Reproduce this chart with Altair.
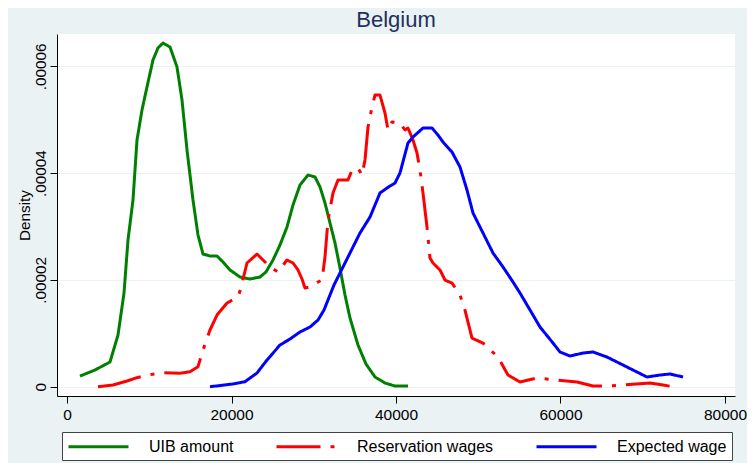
import altair as alt
import pandas as pd

# ---- data (density values in units of 1e-5) ----
series = ["UIB amount", "Reservation wages", "Expected wage"]
colors = ["#008000", "#ff0000", "#0000ff"]
dashes = [[1, 0], [44, 10, 4, 10], [1, 0]]

uib_x = [1581, 3404, 5228, 6201, 6930, 7416, 8024, 8511, 9119, 9726, 10456, 11064,
         11672, 12523, 13374, 13982, 14590, 15319, 15927, 16535, 17386, 18237, 18967,
         19818, 21033, 22249, 23465, 24194, 25045, 25896, 26747, 27477, 28328, 29301,
         30152, 30760, 31368, 31975, 32583, 33191, 33799, 34407, 35380, 36352, 37447,
         38662, 39878, 41458]
uib_y = [0.200, 0.313, 0.463, 0.968, 1.755, 2.748, 3.497, 4.621, 5.183, 5.614, 6.120,
         6.345, 6.437, 6.362, 5.988, 5.370, 4.434, 3.497, 2.841, 2.485, 2.448, 2.448,
         2.336, 2.186, 2.055, 2.017, 2.055, 2.149, 2.373, 2.654, 2.991, 3.403, 3.778,
         3.965, 3.928, 3.741, 3.441, 3.067, 2.692, 2.224, 1.718, 1.287, 0.781, 0.425,
         0.182, 0.069, 0.013, 0.013]

res_x = [3769, 5593, 7295, 8511, 9848, 11672, 13739, 14954, 15927, 16535, 17386, 18237,
         19453, 20790, 21155, 21398, 21884, 23101, 23830, 24681, 25654, 26748, 27477,
         28085, 28571, 28936, 29544, 30517, 31003, 31368, 31733, 32341, 32949, 34165,
         34651, 35380, 35866, 36231, 36596, 37082, 37447, 38055, 38662, 39027, 39514,
         40486, 41094, 41458, 42066, 42553, 42918, 43282, 43769, 44133, 44498, 45349,
         45957, 46808, 47781, 48389, 49240, 50577, 52401, 53617, 55076, 57143, 59575,
         62006, 63951, 65654, 67599, 70882, 72463, 73679]
res_y = [0.000, 0.032, 0.107, 0.169, 0.219, 0.262, 0.251, 0.281, 0.375, 0.687, 1.062,
         1.342, 1.568, 1.680, 1.849, 2.017, 2.317, 2.485, 2.373, 2.242, 2.149, 2.373,
         2.317, 2.186, 2.017, 1.849, 1.867, 1.961, 1.998, 2.429, 3.122, 3.628, 3.871,
         3.871, 4.058, 4.096, 3.965, 4.246, 4.864, 5.239, 5.463, 5.463, 5.126, 4.808,
         4.958, 4.939, 4.808, 4.845, 4.621, 4.377, 4.059, 3.628, 2.991, 2.410, 2.317,
         2.186, 1.998, 1.942, 1.717, 1.436, 0.912, 0.818, 0.556, 0.219, 0.088, 0.163,
         0.125, 0.088, 0.013, 0.013, 0.032, 0.069, 0.032, 0.000]

exp_x = [17386, 20182, 21641, 23101, 24316, 25896, 27112, 28328, 29544, 30517, 31246,
         31733, 32462, 33191, 34407, 35623, 36839, 38055, 38906, 39878, 40486, 40972,
         41458, 42066, 43282, 44377, 45106, 45714, 46808, 47781, 48632, 49362, 50577,
         51793, 53009, 54225, 55076, 56292, 57508, 59088, 59939, 61155, 62735, 63951,
         65654, 67599, 69301, 70517, 72098, 73314, 74894]
exp_y = [0.000, 0.051, 0.094, 0.257, 0.500, 0.781, 0.893, 1.025, 1.118, 1.249, 1.437,
         1.624, 1.905, 2.130, 2.504, 2.879, 3.178, 3.628, 3.722, 3.815, 4.003, 4.284,
         4.565, 4.677, 4.845, 4.845, 4.714, 4.583, 4.396, 4.115, 3.684, 3.253, 2.879,
         2.504, 2.242, 1.961, 1.755, 1.437, 1.118, 0.818, 0.650, 0.575, 0.631, 0.650,
         0.556, 0.406, 0.275, 0.182, 0.219, 0.238, 0.182]

x_ticks = [0, 20000, 40000, 60000, 80000]
y_ticks = [0, 0.00002, 0.00004, 0.00006]

rows = []
for name, xs, ys in zip(series, [uib_x, res_x, exp_x], [uib_y, res_y, exp_y]):
    for i, (xv, yv) in enumerate(zip(xs, ys)):
        rows.append({"income": xv, "density": yv * 1e-5, "series": name, "idx": i})
df = pd.DataFrame(rows)

FONT = "Liberation Sans"

# stroke sample 60px long drawn from the entry's left edge (size 256 -> unit 8px)
legend = alt.Legend(
    title=None, orient="none", legendX=5, legendY=398, direction="horizontal",
    columns=3, columnPadding=36, symbolType="M-1,0H6.5", symbolSize=256,
    symbolStrokeWidth=3, labelFontSize=16, labelOffset=63, padding=5,
    strokeColor="#444444", fillColor="white", labelLimit=0, labelColor="black",
    labelFont=FONT,
)

chart = alt.Chart(df).mark_line(strokeWidth=3, strokeJoin="round").encode(
    x=alt.X("income:Q",
            scale=alt.Scale(domain=[-1216, 81216], nice=False, zero=False),
            axis=alt.Axis(values=x_ticks, format="d", title=None, grid=False,
                          tickSize=7, labelPadding=4, labelFontSize=15.5,
                          labelFlush=False, domainColor="black", tickColor="black",
                          labelColor="black", labelFont=FONT)),
    y=alt.Y("density:Q",
            scale=alt.Scale(domain=[-0.00000174, 0.00006606], nice=False, zero=False),
            axis=alt.Axis(values=y_ticks,
                          labelExpr="datum.value == 0 ? '0' : replace(format(datum.value, '.5f'), '0.', '.')",
                          title="Density", labelAngle=270, labelAlign="center",
                          labelBaseline="bottom", labelPadding=2, tickSize=7,
                          labelFontSize=15.3, grid=True, gridColor="#eaf2f3",
                          domainColor="black", tickColor="black", labelColor="black",
                          labelFont=FONT, titleFont=FONT, titleFontSize=15.3,
                          titleFontWeight="normal", titleColor="black",
                          titleAngle=270, titleX=-28, titleY=181,
                          titleAlign="center", titleBaseline="alphabetic")),
    color=alt.Color("series:N", scale=alt.Scale(domain=series, range=colors), legend=legend),
    strokeDash=alt.StrokeDash("series:N", scale=alt.Scale(domain=series, range=dashes), legend=legend),
    order="idx:Q",
).properties(
    width=678, height=362,
    title=alt.Title("Belgium", fontSize=22, color="#1e3160", font=FONT,
                    fontWeight="normal", anchor="middle", baseline="alphabetic",
                    offset=7, dy=22),
    padding={"left": 49, "top": 26, "right": 12, "bottom": 67},
    autosize="none",
    background="#eaf2f3",
).configure_view(fill="white", stroke=None)

chart.save("out.html", embed_options={"renderer": "svg", "actions": False})
